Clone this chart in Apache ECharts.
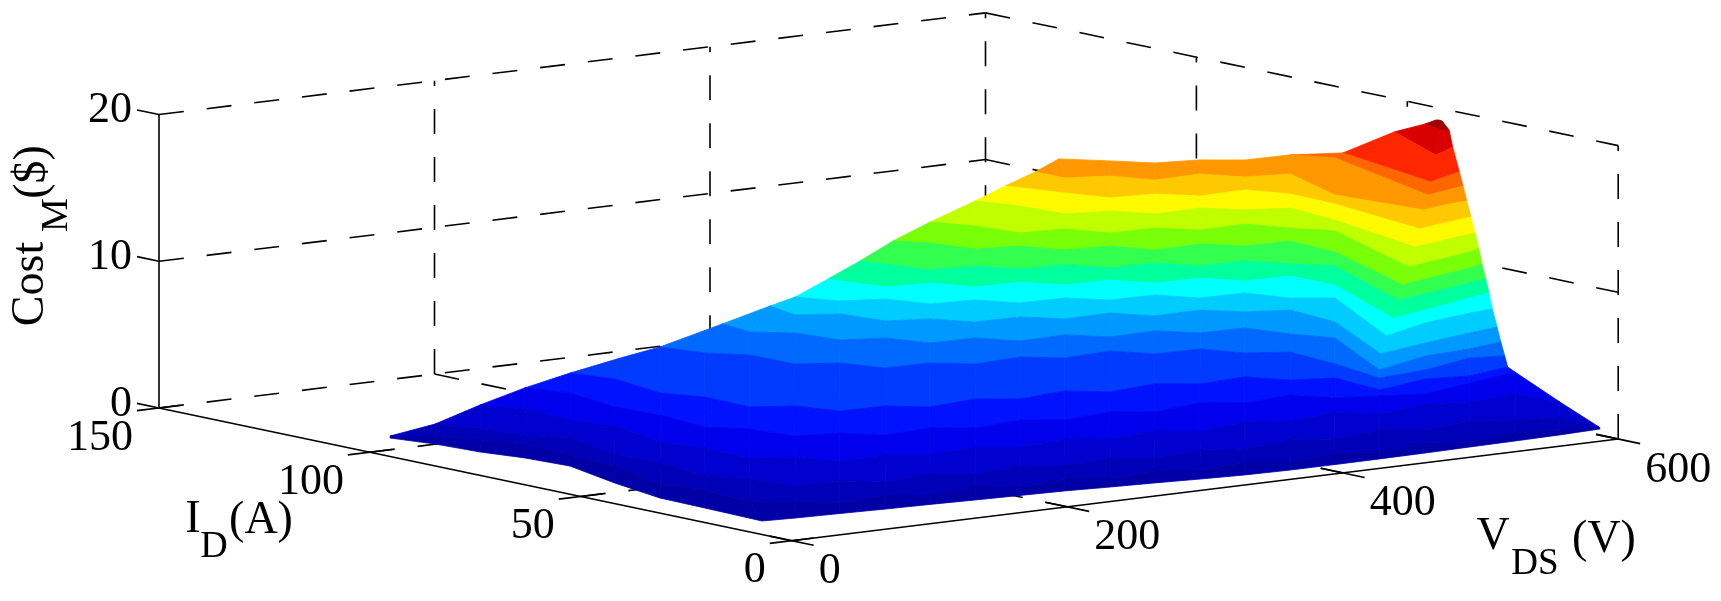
<!DOCTYPE html>
<html>
<head>
<meta charset="utf-8">
<style>html,body{margin:0;background:#fff}#main{width:1721px;height:601px}</style>
<script src="https://cdn.jsdelivr.net/npm/echarts@6/dist/echarts.min.js"></script>
</head>
<body>
<div id="main"></div>
<script>
// tick labels
var vdsTicks = [0, 200, 400, 600];
var idTicks = [0, 50, 100, 150];
var costTicks = [0, 10, 20];

// surface rows, each row follows one cost level across the picture
var costLevels = [0.3, 0.6, 1, 1.5, 2.2, 3, 4, 5, 6, 7, 8, 9, 10, 11, 12, 13, 14, 15, 16, 17.5, 19, 19.8];
// first mesh column used by each row
var rowStart = [0, 0, 1, 2, 3, 4, 5, 7, 8, 9, 10, 10, 11, 12, 13, 14, 14, 15, 21, 21, 21, 22];

var vdsRows = [
  [30.6,38.1,41.3,48.8,51.8,35.3,23.2,22,19.8,41.4,71.8,102.2,132.7,163.1,193.5,223.9,253.2,282.4,311.8,341.1,372.6,405.2,437.8,471.5,505.2,538.8,572.5,603.9],
  [25.4,46,57.8,69.7,66.2,62.8,44.2,51.7,46.1,68.9,85.1,123.2,143.8,181.8,202.4,240.5,261.1,299,319.6,359.9,380.5,420.7,443.5,483.7,506.5,546.7,573.8,596.5],
  [59.3,71.1,74.3,90.4,76.1,77.1,69.3,83.4,88.7,120.2,138.7,176.7,197.3,235.4,256,294,314.5,352.6,375.3,415.6,438.3,478.6,499.2,539.4,562.2,587.1,585.8],
  [105.4,117.3,113.8,121.3,107,114.5,113.3,136.1,147.9,181.6,202.2,240.3,260.9,298.9,319.5,357.5,378.1,418.3,441.1,481.3,497.6,540,564.9,603,606],
  [140.6,150.2,140.3,143.4,137.8,154.1,159.4,186.5,202.8,238.7,259.3,297.3,317.9,355.9,376.4,416.7,437.3,475.3,489.4,514.3,539.3,583.9,628.5],
  [168.3,175.8,165.9,177.7,176.5,199.3,209,240.5,258.9,297,317.6,355.6,374.1,412,432.6,468.5,482.5,507.5,501.9,546.5,573.6,610.7],
  [191.8,234.1,241.6,257.9,258.9,281.6,291.3,322.8,341.3,377.1,395.5,431.4,445.4,476.9,488.7,511.5,506,496,534.1,580.8,601.2],
  [280.9,276.2,294.6,300,324.9,334.6,366.1,380.2,413.9,430.1,463.7,479.9,511.4,518.9,530.8,481.6,532.8,568.6,598.1],
  [310.1,301.8,324.6,329.9,354.9,369,400.5,416.7,450.4,464.3,498,514.3,539.2,533.7,485,529.1,571.5,596.9],
  [309,320.9,345.9,355.6,384.9,398.9,430.4,446.7,478.1,492.1,523.6,533.3,553.9,494.9,540.6,583,602],
  [331.3,340,369.3,381.2,412.7,426.7,458.2,472.2,503.7,517.8,549.3,550.2,504.9,536.9,583.7,603.3],
  [353.4,358.3,365.8,395.1,409.2,438.5,452.6,484,498,529.5,543.6,559.8,514.5,540,584.6,600.6],
  [380.1,392.6,400.1,427.3,439.2,468.5,480.3,514,530.2,561.7,558.3,517.4,540.6,585.2,599.4],
  [406.4,418.2,423.6,452.9,464.8,496.2,512.4,546.1,558,572,527.4,543.4,588,600.7],
  [440.9,450.6,453.8,480.9,494.9,528.6,544.8,569.8,564.2,541.9,570.9,599.9],
  [455.3,467.5,477.2,506.4,522.7,556.4,568.2,567,551.4,575.9,600.9],
  [467.5,468.2,493.1,504.9,538.6,552.7,579.8,554.6,562.6,583.1,601.9],
  [475,494,510.2,537.3,557.9,589.4,603.5,565.4,581.8,601],
  [586,562.9,580.2,597.7],
  [607.6,576.1,589,601.4],
  [590.8,584.6,586.8,588.7],
  [578.8,580.2,579.4]
];

var idRows = [
  [105.2,96.9,87.3,79.2,69.5,53.5,38.8,27.8,13.5,12.7,12,11.2,10.6,9.8,9.1,8.4,7.2,6.2,5,4,3.5,3.5,3.6,3.8,4.2,4.5,4.9,5.6],
  [103.5,99.5,92.8,86,74.2,62.4,45.6,37.4,25,21.7,16.4,18.1,14.2,15.9,12,13.8,9.8,11.6,7.6,10.1,6.1,8.6,5.4,7.8,4.6,7,5.3,3.2],
  [103.9,97.1,87.5,82.1,66.8,56.4,43.2,37.2,28.2,27.9,23.1,24.9,20.9,22.7,18.8,20.5,16.6,18.3,15.1,17.6,14.4,16.9,12.9,15.4,12.1,9.6,0],
  [108.3,101.5,89.7,81.5,66.1,58,46.9,43.6,36.9,37.2,33.3,35,31.1,32.9,28.9,30.7,26.7,29.2,25.9,28.4,23.1,26.2,23.7,25.4,15.8],
  [109.2,101.6,87.7,78,65.6,60.3,51.3,49.5,44.1,45.2,41.2,43,39.1,40.8,36.9,39.3,35.4,37.1,31,28.6,26,29.9,33.8],
  [107.5,99.3,85.4,78.6,67.6,64.3,56.8,56.4,51.8,53.5,49.6,51.4,46.7,48.5,44.5,45.6,39.4,36.9,24.5,28.3,26.6,29.7],
  [103.3,107.7,99.5,94.2,83.8,80.6,73,72.7,68,69,64.4,65.4,59.4,58.9,52.2,48.9,36.5,22.6,24.3,28.9,27.3],
  [108.2,100.1,95.4,86.5,84,76.5,76.1,70,70.4,65,65.4,59.9,59.6,51.3,44.6,17.9,23.8,24.9,27.2],
  [106.4,97.8,94.6,85.6,83.1,77,76.7,71.3,71.6,65.6,65.8,60.5,57.9,45.5,18.7,22.6,25.9,27.7],
  [100.1,93.4,90.8,83.3,82.2,76.2,75.8,70.4,70.1,63.9,63.6,56,52.1,20.6,26.4,29.6,30.5],
  [99.6,88.9,87.8,81,80.6,74.6,74.2,68.1,67.7,61.7,61.2,50.9,22.3,25.2,29.9,31.7],
  [99.2,94.9,86.7,85.5,79.5,78.5,72.3,72,65.8,65.5,59.4,54,24.3,26.2,30.1,31.6],
  [100.1,95.5,87.2,85.4,78.7,77.5,70.8,71,65.7,65.3,53.5,24.1,26.4,30.3,32.1],
  [99.9,93.1,84.2,83.2,76.3,76,70.5,70.9,64.1,58,25.9,27.3,31.3,33.3],
  [100.5,93,83.4,81.6,75.5,75.8,70.5,67.9,55.5,29.2,31.6,33.9],
  [98.1,87.9,80.4,79.3,73.9,74.3,67.4,56.4,31.2,33.3,35.2],
  [95,88.1,85.6,78.8,79.1,73.1,71.2,52.3,33.9,35.6,36.5],
  [91.8,85.9,80.5,78.7,74.7,74.4,68.3,33.8,35.2,37.1],
  [60.7,32.3,34.7,36.9],
  [55.5,35.5,37.5,39.7],
  [42.8,37.2,36.8,36.4],
  [36.3,36,35]
];

// colour ramp of the surface, as [share of cost range, colour]
var costMax = 20;
var rampStops = [
  [0, [0, 0, 143]], [0.11, [0, 0, 255]], [0.25, [0, 128, 255]], [0.375, [0, 255, 255]],
  [0.44, [0, 255, 128]], [0.53, [128, 255, 0]], [0.62, [255, 255, 0]], [0.75, [255, 128, 0]],
  [0.875, [255, 0, 0]], [1, [128, 0, 0]]
];

// view of the box on the page
function project (v, i, z) {
  return [
    791.7 + 1.3775 * v - 4.218 * i,
    540.7 - 0.1695 * v - 0.885 * i - 14.67 * z
  ];
}

function rampColor (z) {
  var t = Math.min(1, z / costMax);
  for (var n = 1; n < rampStops.length; n++) {
    if (t <= rampStops[n][0]) {
      var a = rampStops[n - 1], b = rampStops[n];
      var f = (t - a[0]) / (b[0] - a[0]);
      return 'rgb(' + [0, 1, 2].map(function (c) {
        return Math.round(a[1][c] + (b[1][c] - a[1][c]) * f);
      }).join(',') + ')';
    }
  }
  return 'rgb(128,0,0)';
}

// vertex of a row at a mesh column, or null outside the row
function vertex (r, k) {
  var n = k - rowStart[r];
  if (n < 0 || n >= vdsRows[r].length) return null;
  return project(vdsRows[r][n], idRows[r][n], costLevels[r]);
}

// one entry per cell, far rows first
var cells = [];
for (var r = costLevels.length - 2; r >= 0; r--) {
  for (var k = 0; k < 27; k++) {
    var pts = [vertex(r, k), vertex(r, k + 1), vertex(r + 1, k + 1), vertex(r + 1, k)].filter(Boolean);
    if (pts.length >= 3) cells.push({ value: [r, k], pts: pts, z: (costLevels[r] + costLevels[r + 1]) / 2 });
  }
}

// box lines
var vMax = vdsTicks[vdsTicks.length - 1], iMax = idTicks[idTicks.length - 1], zMax = costTicks[costTicks.length - 1];
var segments = [];
function addSeg (a, b, dashed) { segments.push({ value: [segments.length], a: a, b: b, dashed: dashed }); }

costTicks.forEach(function (z) {
  addSeg([0, iMax, z], [vMax, iMax, z], true);
  addSeg([vMax, iMax, z], [vMax, 0, z], true);
  addSeg([0, iMax + 5.2, z], [0, iMax, z], false);
});
vdsTicks.forEach(function (v) {
  if (v > 0) addSeg([v, iMax, 0], [v, iMax, zMax], true);
  if (v > 0 && v < vMax) addSeg([v, iMax, 0], [v, 0, 0], true);
  addSeg([v, 5.2, 0], [v, -5.2, 0], false);
});
idTicks.forEach(function (i) {
  if (i < iMax) addSeg([vMax, i, 0], [vMax, i, zMax], true);
  if (i > 0 && i < iMax) addSeg([0, i, 0], [vMax, i, 0], true);
  addSeg([-16, i, 0], [16, i, 0], false);
});
addSeg([0, iMax, 0], [0, iMax, zMax], false);
addSeg([0, 0, 0], [0, iMax, 0], false);
addSeg([0, 0, 0], [vMax, 0, 0], false);

// tick labels beside their axes
var tickLabels = [];
vdsTicks.forEach(function (v) { tickLabels.push({ value: [tickLabels.length], text: String(v), at: project(v, 0, 0), dx: 27, dy: 31, align: 'left' }); });
idTicks.forEach(function (i) { tickLabels.push({ value: [tickLabels.length], text: String(i), at: project(0, i, 0), dx: -26, dy: 30, align: 'right' }); });
costTicks.forEach(function (z) { tickLabels.push({ value: [tickLabels.length], text: String(z), at: project(0, iMax, z), dx: -27, dy: -4, align: 'right' }); });

var serif = '"Liberation Serif", "Times New Roman", serif';
function title (text, x, y, size, rotate) {
  return {
    type: 'text', x: x, y: y, rotation: rotate ? Math.PI / 2 : 0, silent: true,
    style: { text: text, font: size + 'px ' + serif, fill: '#000', textAlign: 'center', textVerticalAlign: 'middle' }
  };
}

var myChart = echarts.init(document.getElementById('main'), null, { renderer: 'canvas' });
myChart.setOption({
  animation: false,
  backgroundColor: '#fff',
  grid: { left: 0, right: 0, top: 0, bottom: 0 },
  xAxis: { type: 'value', min: 0, max: 1721, show: false },
  yAxis: { type: 'value', min: 0, max: 601, inverse: true, show: false },
  graphic: [
    title('Cost', 31, 284, 46, true),
    title('M', 57, 215, 38, true),
    title('($)', 33, 172, 46, true),
    title('I', 193, 520, 46),
    title('D', 214, 547, 38),
    title('(A)', 261, 521, 46),
    title('V', 1493, 537, 46),
    title('DS', 1535, 564, 37),
    title('(V)', 1604, 540, 46)
  ],
  series: [
    {
      // box, grid lines and ticks
      type: 'custom',
      silent: true,
      clip: false,
      coordinateSystem: 'cartesian2d',
      data: segments,
      z: 1,
      renderItem: function (params, api) {
        var s = segments[params.dataIndex];
        var p1 = api.coord(project(s.a[0], s.a[1], s.a[2]));
        var p2 = api.coord(project(s.b[0], s.b[1], s.b[2]));
        return {
          type: 'line',
          shape: { x1: p1[0], y1: p1[1], x2: p2[0], y2: p2[1] },
          style: { stroke: '#000', lineWidth: 1.6, lineDash: s.dashed ? [25, 23] : null, fill: null }
        };
      }
    },
    {
      // surface
      type: 'custom',
      silent: true,
      clip: false,
      coordinateSystem: 'cartesian2d',
      data: cells,
      z: 2,
      renderItem: function (params, api) {
        var c = cells[params.dataIndex];
        var col = rampColor(c.z);
        return {
          type: 'polygon',
          shape: { points: c.pts.map(function (p) { return api.coord(p); }) },
          style: { fill: col, stroke: col, lineWidth: 0.8 }
        };
      }
    },
    {
      // tick labels
      type: 'custom',
      silent: true,
      clip: false,
      coordinateSystem: 'cartesian2d',
      data: tickLabels,
      z: 3,
      renderItem: function (params, api) {
        var t = tickLabels[params.dataIndex];
        var p = api.coord(t.at);
        return {
          type: 'text',
          style: {
            text: t.text, x: p[0] + t.dx, y: p[1] + t.dy,
            font: '44px ' + serif, fill: '#000', textAlign: t.align, textVerticalAlign: 'middle'
          }
        };
      }
    }
  ]
});
</script>
</body>
</html>
